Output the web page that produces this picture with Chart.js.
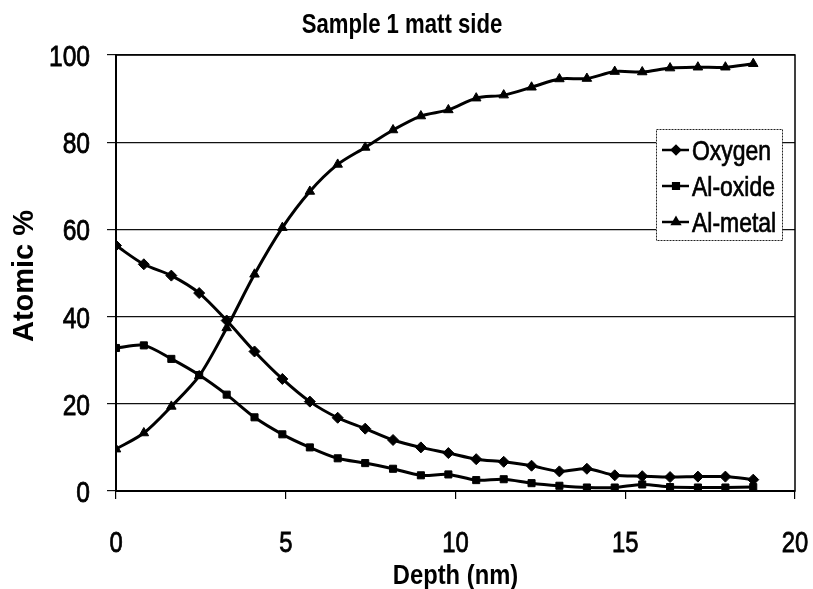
<!DOCTYPE html>
<html>
<head>
<meta charset="utf-8">
<title>Sample 1 matt side</title>
<script src="https://cdn.jsdelivr.net/npm/chart.js@4.4.1/dist/chart.umd.min.js"></script>
<style>
  body { margin: 0; background: #fff; }
  #wrap { width: 813px; height: 589px; }
</style>
</head>
<body>
<div id="wrap"><canvas id="chartCanvas" width="813" height="589"></canvas></div>
<script>
// depth (nm) of each sputter step
const depth = [0, 0.82, 1.63, 2.45, 3.26, 4.08, 4.9, 5.71, 6.53, 7.34, 8.16, 8.98,
  9.79, 10.61, 11.42, 12.24, 13.06, 13.87, 14.69, 15.5, 16.32, 17.14, 17.95, 18.77];

const oxygen = [56.3, 52.0, 49.4, 45.4, 39.1, 32.0, 25.7, 20.5, 16.8, 14.3, 11.7, 10.0,
  8.7, 7.3, 6.7, 5.8, 4.5, 5.1, 3.6, 3.4, 3.2, 3.3, 3.3, 2.6];
const alOxide = [32.8, 33.4, 30.3, 26.6, 22.1, 16.9, 13.0, 10.0, 7.5, 6.4, 5.1, 3.6,
  3.8, 2.5, 2.7, 1.8, 1.2, 0.8, 0.8, 1.5, 0.9, 0.8, 0.8, 0.9];
const alMetal = [9.6, 13.3, 19.4, 26.4, 37.4, 49.7, 60.4, 68.7, 74.9, 78.8, 82.8, 86.0,
  87.4, 90.1, 90.8, 92.6, 94.5, 94.6, 96.2, 96.1, 97.0, 97.2, 97.2, 98.0];

const seriesNames = ['Oxygen', 'Al-oxide', 'Al-metal'];
const xTicks = [0, 5, 10, 15, 20];
const yTicks = [0, 20, 40, 60, 80, 100];

const chartTitle = 'Sample 1 matt side';
const xTitle = 'Depth (nm)';
const yTitle = 'Atomic %';

// no Arial Narrow here, so squeeze Liberation Sans sideways instead
const fontFam = "'Liberation Sans', Arial, sans-serif";
Chart.defaults.font.family = fontFam;
Chart.defaults.color = '#000';

function toPoints(ys) {
  return ys.map((v, i) => ({ x: depth[i], y: v }));
}

// heavy = thin outline so the text looks as dark as the scan
function narrowText(ctx, text, x, y, font, align, sx, rot, heavy) {
  ctx.save();
  ctx.font = font;
  ctx.fillStyle = '#000';
  ctx.strokeStyle = '#000';
  ctx.textAlign = align;
  ctx.textBaseline = 'alphabetic';
  ctx.translate(x, y);
  if (rot) ctx.rotate(rot);
  ctx.scale(sx, 1);
  ctx.fillText(text, 0, 0);
  if (heavy) {
    ctx.lineWidth = heavy;
    ctx.strokeText(text, 0, 0);
  }
  ctx.restore();
}

// tick labels, axis titles and chart title in a condensed face
const textPlugin = {
  id: 'narrowText',
  afterDraw(chart) {
    const ctx = chart.ctx;
    const a = chart.chartArea;
    const xs = chart.scales.x, ys = chart.scales.y;
    ys.ticks.forEach(t => {
      narrowText(ctx, String(t.value), a.left - 26, ys.getPixelForValue(t.value) + 11,
        '30px ' + fontFam, 'right', 0.82, 0, 0.8);
    });
    xs.ticks.forEach(t => {
      narrowText(ctx, String(t.value), xs.getPixelForValue(t.value), a.bottom + 61,
        '29px ' + fontFam, 'center', 0.82, 0, 0.8);
    });
    narrowText(ctx, chartTitle, 402, 33, 'bold 27px ' + fontFam, 'center', 0.82);
    narrowText(ctx, xTitle, (a.left + a.right) / 2, 584, 'bold 27px ' + fontFam, 'center', 0.88);
    narrowText(ctx, yTitle, 33, (a.top + a.bottom) / 2 + 3, 'bold 29px ' + fontFam, 'center', 1, -Math.PI / 2);
  }
};

const boxPlugin = {
  id: 'plotBox',
  beforeDatasetsDraw(chart) {
    const { ctx, chartArea: a } = chart;
    ctx.save();
    ctx.strokeStyle = '#000';
    ctx.lineWidth = 1.5;
    ctx.strokeRect(a.left, a.top, a.right - a.left, a.bottom - a.top);
    ctx.restore();
  }
};

// boxed legend inside the plot, like the excel one
const legendPlugin = {
  id: 'boxLegend',
  afterDraw(chart) {
    const ctx = chart.ctx;
    const x = 656, y = 129, w = 126, h = 111;
    ctx.save();
    ctx.fillStyle = '#fff';
    ctx.fillRect(x, y, w, h);
    ctx.strokeStyle = '#222';
    ctx.lineWidth = 1;
    ctx.setLineDash([2, 1]);
    ctx.strokeRect(x + 0.5, y + 0.5, w, h);
    ctx.setLineDash([]);
    chart.data.datasets.forEach((ds, i) => {
      const cy = y + 21 + i * 36;
      ctx.strokeStyle = '#000';
      ctx.fillStyle = '#000';
      ctx.lineWidth = 2.5;
      ctx.beginPath();
      ctx.moveTo(x + 6, cy);
      ctx.lineTo(x + 33, cy);
      ctx.stroke();
      Chart.helpers.drawPoint(ctx, { pointStyle: ds.pointStyle, radius: 4, borderWidth: 1 }, x + 20, cy);
      narrowText(ctx, ds.label, x + 36, cy + 10, '28px ' + fontFam, 'left', 0.82, 0, 0.7);
    });
    ctx.restore();
  }
};

function makeSet(label, ys, style, r) {
  return {
    label: label,
    data: toPoints(ys),
    borderColor: '#000',
    backgroundColor: '#000',
    borderWidth: 3,
    pointStyle: style,
    pointRadius: r,
    pointBorderWidth: 1,
    tension: 0.3,
    fill: false
  };
}

const ctx = document.getElementById('chartCanvas').getContext('2d');
window.chartInstance = new Chart(ctx, {
  type: 'line',
  data: {
    datasets: [
      makeSet(seriesNames[0], oxygen, 'rectRot', 5.5),
      makeSet(seriesNames[1], alOxide, 'rect', 5),
      makeSet(seriesNames[2], alMetal, 'triangle', 5.5)
    ]
  },
  plugins: [boxPlugin, textPlugin, legendPlugin],
  options: {
    responsive: false,
    animation: false,
    layout: { padding: { top: 55, right: 18, left: 0, bottom: 0 } },
    plugins: {
      legend: { display: false },
      title: { display: false },
      tooltip: { enabled: false }
    },
    scales: {
      x: {
        type: 'linear',
        min: 0,
        max: 20,
        afterBuildTicks: (s) => { s.ticks = xTicks.map(v => ({ value: v })); },
        afterFit: (s) => { s.height = 98; },
        grid: { drawOnChartArea: false, drawTicks: true, tickLength: 8, color: '#000', lineWidth: 1.2 },
        border: { color: '#000', width: 2 },
        ticks: { display: false }
      },
      y: {
        min: 0,
        max: 100,
        afterBuildTicks: (s) => { s.ticks = yTicks.map(v => ({ value: v })); },
        afterFit: (s) => { s.width = 116; },
        grid: { color: '#111', lineWidth: 1.2, tickLength: 9 },
        border: { color: '#000', width: 2 },
        ticks: { display: false }
      }
    }
  }
});
</script>
</body>
</html>
